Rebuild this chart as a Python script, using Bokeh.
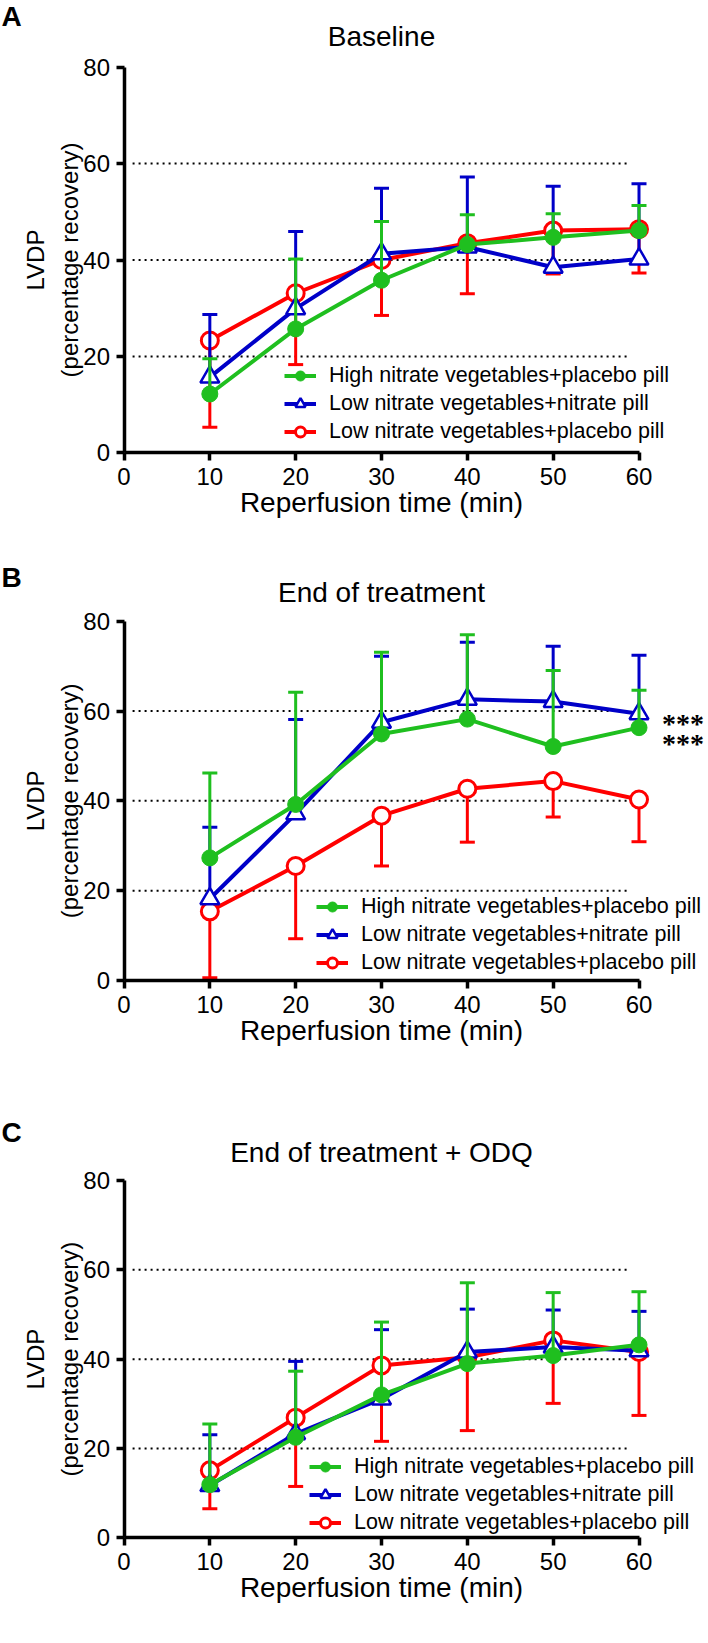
import numpy as np
from bokeh.plotting import figure
from bokeh.layouts import column
from bokeh.models import (ColumnDataSource, Legend, LegendItem, FixedTicker,
                          Label, LabelSet, Range1d)
from bokeh.embed import file_html
from bokeh.resources import INLINE

# ---------------- data ----------------
time_min = [10, 20, 30, 40, 50, 60]
x_ticks = [0, 10, 20, 30, 40, 50, 60]
y_ticks = [0, 20, 40, 60, 80]
grid_levels = [20, 40, 60]

series_names = ["High nitrate vegetables+placebo pill",
                "Low nitrate vegetables+nitrate pill",
                "Low nitrate vegetables+placebo pill"]
panel_letters = ["A", "B", "C"]
panel_titles = ["Baseline", "End of treatment", "End of treatment + ODQ"]
x_label = "Reperfusion time (min)"
y_label = "LVDP\n(percentage recovery)"

# Panel A: Baseline
base_hnv_placebo_mean = [12.2, 25.7, 35.8, 43.2, 44.7, 46.1]
base_hnv_placebo_err = [7.3, 14.5, 12.2, 6.2, 4.9, 5.2]
base_lnv_nitrate_mean = [15.7, 29.9, 41.3, 42.7, 38.5, 40.2]
base_lnv_nitrate_err = [13.0, 16.0, 13.6, 14.5, 16.8, 15.6]
base_lnv_placebo_mean = [23.3, 33.1, 40.0, 43.5, 46.1, 46.4]
base_lnv_placebo_err = [18.0, 14.8, 11.5, 10.5, 9.0, 9.1]

# Panel B: End of treatment
eot_hnv_placebo_mean = [27.3, 39.2, 54.9, 58.2, 52.1, 56.3]
eot_hnv_placebo_err = [18.9, 25.0, 18.2, 18.8, 16.9, 8.3]
eot_lnv_nitrate_mean = [18.2, 37.1, 57.5, 62.6, 62.1, 59.4]
eot_lnv_nitrate_err = [15.9, 21.0, 14.7, 12.7, 12.3, 13.0]
eot_lnv_placebo_mean = [15.4, 25.5, 36.7, 42.7, 44.4, 40.3]
eot_lnv_placebo_err = [14.8, 16.2, 11.2, 11.9, 8.0, 9.4]

# Panel C: End of treatment + ODQ
odq_hnv_placebo_mean = [11.9, 22.5, 32.0, 39.0, 40.8, 43.2]
odq_hnv_placebo_err = [13.6, 14.8, 16.3, 18.1, 14.1, 11.9]
odq_lnv_nitrate_mean = [11.7, 23.3, 31.1, 41.6, 42.7, 41.9]
odq_lnv_nitrate_err = [11.4, 16.2, 15.5, 9.6, 8.3, 8.8]
odq_lnv_placebo_mean = [15.1, 26.9, 38.6, 40.4, 44.2, 41.6]
odq_lnv_placebo_err = [8.6, 15.4, 17.0, 16.4, 14.1, 14.2]

significance_text = "***"

# ---------------- style / geometry ----------------
FONT = "Liberation Sans"
GREEN = "#1fbf1f"
BLUE = "#0000c8"
RED = "#ff0000"
colors = [GREEN, BLUE, RED]
err_dir = [1, 1, -1]  # error bars up for first two series, down for the third

W = 708
X0_PX = 123.5            # pixel column of x = 0 inside each figure
PX_PER_X = 515.0 / 60.0  # pixels per minute


def make_panel(letter, title, means, errs, geom, stars=False):
    H, y80_px, y0_px, leg_x, leg_dy, letter_above, title_above = geom
    sy = (y0_px - y80_px) / 80.0
    x_start = -X0_PX / PX_PER_X
    x_end = (W - X0_PX) / PX_PER_X
    y_start = -(H - y0_px) / sy
    y_end = 80 + y80_px / sy

    def ydata(px):  # pixel row (from figure top) -> data y
        return 80 + (y80_px - px) / sy

    def xdata(px):  # pixel column -> data x
        return (px - X0_PX) / PX_PER_X

    p = figure(width=W, height=H, x_range=Range1d(x_start, x_end),
               y_range=Range1d(y_start, y_end),
               output_backend="svg", toolbar_location=None,
               min_border=0, min_border_left=0, min_border_right=0,
               min_border_top=0, min_border_bottom=0,
               outline_line_color=None, background_fill_color="white")

    # axes drawn at the data origin
    for ax in (p.xaxis[0], p.yaxis[0]):
        ax.fixed_location = 0
        ax.axis_line_width = 3.5
        ax.axis_line_color = "black"
        ax.major_tick_line_width = 3.5
        ax.major_tick_line_color = "black"
        ax.major_tick_out = 8
        ax.major_tick_in = 0
        ax.minor_tick_line_color = None
        ax.major_label_text_font = FONT
        ax.major_label_text_font_size = "24px"
        ax.major_label_text_color = "black"
    p.xaxis.ticker = FixedTicker(ticks=x_ticks)
    p.yaxis.ticker = FixedTicker(ticks=y_ticks)
    p.xaxis.bounds = (x_ticks[0], x_ticks[-1])
    p.yaxis.bounds = (y_ticks[0], y_ticks[-1])
    p.xaxis.major_label_standoff = 7
    p.yaxis.major_label_standoff = 6
    p.xgrid.visible = False
    p.ygrid.visible = False

    # dotted reference lines
    gsrc = ColumnDataSource(dict(y=grid_levels,
                                 x0=[x_ticks[0] + 1] * len(grid_levels),
                                 x1=[x_ticks[-1] - 1] * len(grid_levels)))
    p.segment(x0="x0", y0="y", x1="x1", y1="y", source=gsrc,
              line_color="black", line_width=2, line_dash="2 4")

    line_r = {}
    mark_r = {}
    for i in [2, 1, 0]:
        m = np.array(means[i], dtype=float)
        e = np.array(errs[i], dtype=float)
        end = m + err_dir[i] * e
        src = ColumnDataSource(dict(x=time_min, m=m, end=end))
        c = colors[i]
        p.segment(x0="x", y0="m", x1="x", y1="end", source=src, line_color=c, line_width=3)
        p.scatter(x="x", y="end", source=src, marker="dash", size=15, line_color=c, line_width=3)
        line_r[i] = p.line(x="x", y="m", source=src, line_color=c, line_width=4)
        if i == 0:
            mark_r[i] = p.scatter(x="x", y="m", source=src, marker="circle", size=16,
                                  fill_color=c, line_color=c, line_width=1)
        elif i == 1:
            mark_r[i] = p.scatter(x="x", y="m", source=src, marker="triangle", size=19,
                                  fill_color="white", line_color=c, line_width=2.5)
        else:
            mark_r[i] = p.scatter(x="x", y="m", source=src, marker="circle", size=17,
                                  fill_color="white", line_color=c, line_width=3)

    legend = Legend(items=[LegendItem(label=series_names[i], renderers=[line_r[i], mark_r[i]])
                           for i in range(3)],
                    location=(leg_x, (H - y0_px) + leg_dy), padding=0, margin=0, spacing=3,
                    label_height=25, glyph_height=25, glyph_width=32, label_standoff=13,
                    label_text_font=FONT, label_text_font_size="21.5px", label_text_color="black",
                    background_fill_alpha=0, border_line_color=None)
    p.add_layout(legend)

    # panel letter
    p.add_layout(Label(x=xdata(1), y=ydata(y80_px - letter_above), text=letter,
                       text_font=FONT, text_font_size="28px", text_font_style="bold",
                       text_color="black", text_align="left", text_baseline="alphabetic"))
    # panel title
    p.add_layout(Label(x=(x_ticks[0] + x_ticks[-1]) / 2, y=ydata(y80_px - title_above),
                       text=title, text_font=FONT, text_font_size="28px", text_color="black",
                       text_align="center", text_baseline="alphabetic"))
    # x axis label
    p.add_layout(Label(x=(x_ticks[0] + x_ticks[-1]) / 2, y=ydata(y0_px + 50), text=x_label,
                       text_font=FONT, text_font_size="28px", text_color="black",
                       text_align="center", text_baseline="alphabetic"))
    # y axis label (two lines, rotated)
    p.add_layout(Label(x=xdata(52), y=(y_ticks[0] + y_ticks[-1]) / 2, text=y_label,
                       angle=np.pi / 2, text_font=FONT, text_font_size="24px",
                       text_line_height=1.25, text_color="black",
                       text_align="center", text_baseline="middle"))

    if stars:
        ssrc = ColumnDataSource(dict(x=[time_min[-1], time_min[-1]],
                                     y=[means[1][-1], means[0][-1]],
                                     t=[significance_text, significance_text],
                                     yo=[-10, -16]))
        p.add_layout(LabelSet(x="x", y="y", text="t", source=ssrc, x_offset=23, y_offset="yo",
                              text_font=FONT, text_font_size="28px", text_font_style="bold",
                              text_color="black", text_align="left", text_baseline="middle"))
    return p


# (fig height, px row of y=80, px row of y=0, legend x px, legend bottom above y=0,
#  letter anchor above y=80, title anchor above y=80)
geoms = [(530, 66.7, 452.3, 284, 8, 50.5, 30.4),
         (560, 90.7, 450.0, 316, 5, 43.7, 28.7),
         (550, 90.0, 447.3, 309, 2, 48.0, 28.0)]

pA = make_panel(panel_letters[0], panel_titles[0],
                [base_hnv_placebo_mean, base_lnv_nitrate_mean, base_lnv_placebo_mean],
                [base_hnv_placebo_err, base_lnv_nitrate_err, base_lnv_placebo_err], geoms[0])
pB = make_panel(panel_letters[1], panel_titles[1],
                [eot_hnv_placebo_mean, eot_lnv_nitrate_mean, eot_lnv_placebo_mean],
                [eot_hnv_placebo_err, eot_lnv_nitrate_err, eot_lnv_placebo_err], geoms[1],
                stars=True)
pC = make_panel(panel_letters[2], panel_titles[2],
                [odq_hnv_placebo_mean, odq_lnv_nitrate_mean, odq_lnv_placebo_mean],
                [odq_hnv_placebo_err, odq_lnv_nitrate_err, odq_lnv_placebo_err], geoms[2])

layout = column(pA, pB, pC, spacing=0)
open("out.html", "w").write(file_html(layout, INLINE))
